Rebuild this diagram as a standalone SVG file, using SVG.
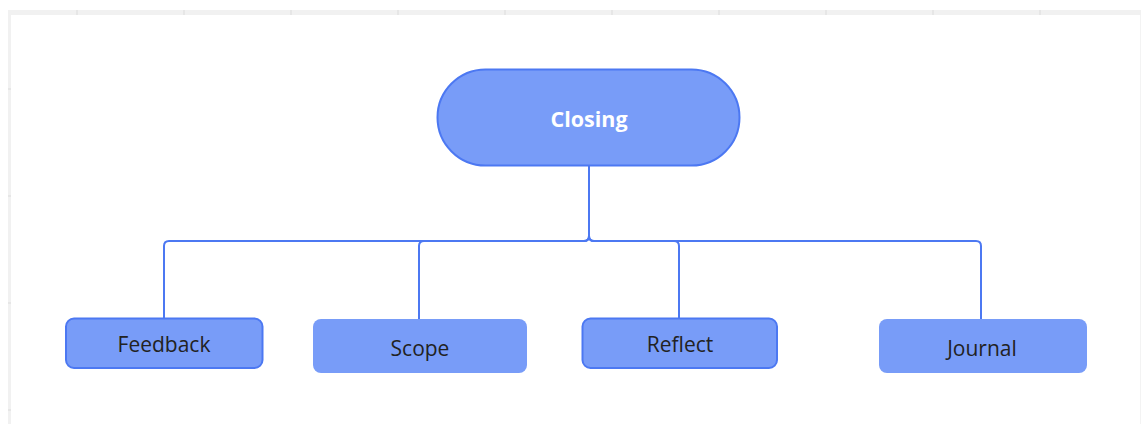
<svg xmlns="http://www.w3.org/2000/svg" width="1141" height="424" viewBox="0 0 1141 424">
  <style>
    .ruler { fill: #f1f1f1; }
    .tick { stroke: #e2e2e2; stroke-width: 1.5; }
    .node { fill: #789cf8; }
    .outlined { stroke: #4c78f2; stroke-width: 2; }
    .label { font-family: "Open Sans", "Noto Sans", sans-serif; font-size: 21px; fill: #222; text-anchor: middle; }
    .title { font-family: "Open Sans", "Noto Sans", sans-serif; font-size: 21.5px; font-weight: bold; fill: #fff; text-anchor: middle; }
    .link { fill: none; stroke: #4c78f2; stroke-width: 2; }
  </style>

  <!-- canvas background and rulers -->
  <rect x="0" y="0" width="1141" height="424" fill="#ffffff"/>
  <g id="rulers">
    <rect class="ruler" x="8" y="10" width="1133" height="5"/>
    <rect class="ruler" x="8" y="10" width="3" height="414"/>
    <line x1="1140.5" y1="15" x2="1140.5" y2="424" stroke="#f3f3f3" stroke-width="1"/>
    <line class="tick" x1="77" y1="10" x2="77" y2="15"/>
    <line class="tick" x1="184" y1="10" x2="184" y2="15"/>
    <line class="tick" x1="291" y1="10" x2="291" y2="15"/>
    <line class="tick" x1="398" y1="10" x2="398" y2="15"/>
    <line class="tick" x1="505" y1="10" x2="505" y2="15"/>
    <line class="tick" x1="612" y1="10" x2="612" y2="15"/>
    <line class="tick" x1="719" y1="10" x2="719" y2="15"/>
    <line class="tick" x1="826" y1="10" x2="826" y2="15"/>
    <line class="tick" x1="933" y1="10" x2="933" y2="15"/>
    <line class="tick" x1="1040" y1="10" x2="1040" y2="15"/>
    <line class="tick" x1="8" y1="89" x2="11" y2="89"/>
    <line class="tick" x1="8" y1="196" x2="11" y2="196"/>
    <line class="tick" x1="8" y1="303" x2="11" y2="303"/>
    <line class="tick" x1="8" y1="410" x2="11" y2="410"/>
  </g>

  <!-- connectors from the root to each child -->
  <g id="connectors">
    <path class="link" d="M589 166 V236 Q589 241 584 241 H169 Q164 241 164 246 V318"/>
    <path class="link" d="M589 166 V236 Q589 241 584 241 H424 Q419 241 419 246 V319"/>
    <path class="link" d="M589 166 V236 Q589 241 594 241 H674 Q679 241 679 246 V318"/>
    <path class="link" d="M589 166 V236 Q589 241 594 241 H976 Q981 241 981 246 V319"/>
  </g>

  <g id="closing">
    <rect class="node outlined" x="437.5" y="69.5" width="302" height="96" rx="48"/>
    <text class="title" x="589" y="126.5">Closing</text>
  </g>

  <g id="feedback">
    <rect class="node outlined" x="66" y="318.5" width="196.5" height="49.5" rx="8"/>
    <text class="label" x="164" y="351.5">Feedback</text>
  </g>

  <g id="scope">
    <rect class="node" x="313" y="319" width="214" height="54" rx="8"/>
    <text class="label" x="420" y="355.5">Scope</text>
  </g>

  <g id="reflect">
    <rect class="node outlined" x="582.5" y="318.5" width="194.5" height="49.5" rx="8"/>
    <text class="label" x="680" y="351.5">Reflect</text>
  </g>

  <g id="journal">
    <rect class="node" x="879" y="319" width="208" height="54" rx="8"/>
    <text class="label" x="982" y="355.5">Journal</text>
  </g>
</svg>
